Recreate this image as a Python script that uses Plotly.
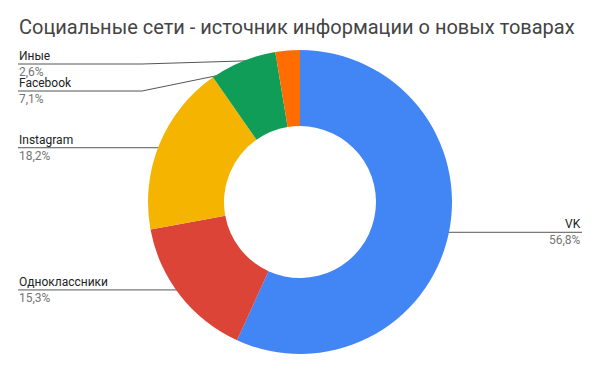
import math
import plotly.graph_objects as go

title = "Социальные сети - источник информации о новых товарах"
labels = ["VK", "Одноклассники", "Instagram", "Facebook", "Иные"]
values = [56.8, 15.3, 18.2, 7.1, 2.6]
pct_text = ["56,8%", "15,3%", "18,2%", "7,1%", "2,6%"]
colors = ["#4285F4", "#DB4437", "#F4B400", "#0F9D58", "#FF6D00"]

W, H = 600, 371
CX, CY, R = 300, 202, 152
top_px, bot_px = CY - R, CY + R

fig = go.Figure()
fig.add_trace(go.Pie(
    labels=labels, values=values, sort=False, direction="clockwise", rotation=0,
    hole=0.5, marker=dict(colors=colors, line=dict(width=0)),
    textinfo="none", hoverinfo="label+percent", showlegend=False,
    domain=dict(x=[0, 1], y=[1 - bot_px / H, 1 - top_px / H]),
))

# leader lines + labels computed from slice mid-angles
total = sum(values)
cum = 0
anchors = []
for lab, v, p in zip(labels, values, pct_text):
    mid = (cum + v / 2) / total * 2 * math.pi
    cum += v
    dx = CX + 0.94 * R * math.sin(mid)
    dy = CY - 0.94 * R * math.cos(mid)
    anchors.append([lab, p, dx, dy, "right" if math.sin(mid) > 0 else "left"])

annotations = []
MIN_GAP, TOP_MIN = 27, 64
for side in ("left", "right"):
    items = sorted([a for a in anchors if a[4] == side], key=lambda a: a[3])
    prev = -1e9
    for lab, p, dx, dy, _ in items:
        ly = max(dy, TOP_MIN, prev + MIN_GAP)
        prev = ly
        if side == "left":
            x_end = 18
            elbow = CX - R - 6
        else:
            x_end = W - 18
            elbow = CX + R + 6
        if abs(ly - dy) > 1:
            xs, ys = [x_end, elbow, dx], [ly, ly, dy]
        else:
            xs, ys = [x_end, dx], [ly, ly]
        fig.add_trace(go.Scatter(x=xs, y=ys, mode="lines",
                                 line=dict(color="#555555", width=1),
                                 hoverinfo="skip", showlegend=False))
        fig.add_trace(go.Scatter(x=[dx], y=[dy], mode="markers",
                                 marker=dict(color="#9E9E9E", size=5),
                                 hoverinfo="skip", showlegend=False))
        anchor = "left" if side == "left" else "right"
        annotations.append(dict(x=x_end, y=ly, xref="x", yref="y", text=lab,
                                showarrow=False, xanchor=anchor, yanchor="bottom",
                                font=dict(family="Roboto", size=12, color="#222222"),
                                borderpad=0))
        annotations.append(dict(x=x_end, y=ly, xref="x", yref="y", text=p,
                                showarrow=False, xanchor=anchor, yanchor="top",
                                font=dict(family="Roboto", size=12, color="#757575"),
                                borderpad=0))

annotations.append(dict(x=17, y=27, xref="x", yref="y", text=title, showarrow=False,
                        xanchor="left", yanchor="middle",
                        font=dict(family="Roboto", size=20, color="#444444")))

fig.update_layout(
    width=W, height=H, margin=dict(l=0, r=0, t=0, b=0),
    paper_bgcolor="white", plot_bgcolor="rgba(0,0,0,0)",
    xaxis=dict(range=[0, W], visible=False, fixedrange=True),
    yaxis=dict(range=[H, 0], visible=False, fixedrange=True),
    annotations=annotations,
)

fig.write_html("out.html")
